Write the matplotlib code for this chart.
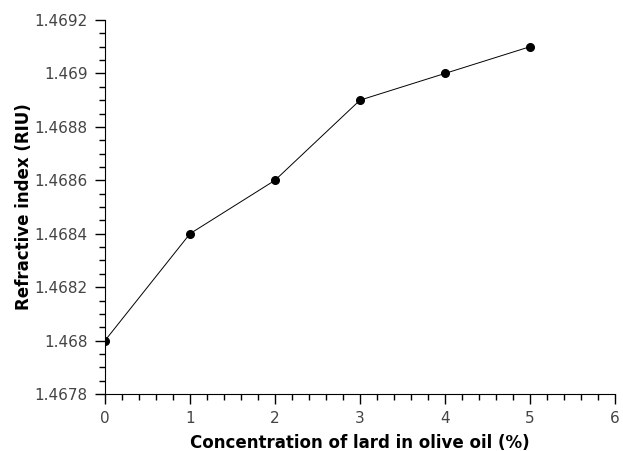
import matplotlib.pyplot as plt
from matplotlib.ticker import MultipleLocator, FuncFormatter

plt.rcParams['font.family'] = ['DejaVu Sans']

concentracao = [0, 1, 2, 3, 4, 5]
indice_refracao = [1.4680, 1.4684, 1.4686, 1.4689, 1.4690, 1.4691]

fig = plt.figure(figsize=(6.23, 4.51), dpi=100)
ax = fig.add_axes([105 / 623, 57 / 451, 510 / 623, 374 / 451])

ax.plot(concentracao, indice_refracao, color='black', linewidth=0.7,
        marker='o', markersize=5.5, markerfacecolor='black', markeredgecolor='black')

ax.set_xlim(0, 6)
ax.set_ylim(1.4678, 1.4692)
ax.xaxis.set_major_locator(MultipleLocator(1))
ax.xaxis.set_minor_locator(MultipleLocator(0.2))
ax.yaxis.set_major_locator(MultipleLocator(0.0002))
ax.yaxis.set_minor_locator(MultipleLocator(0.00005))
ax.yaxis.set_major_formatter(FuncFormatter(lambda v, p: f"{v:.4f}".rstrip('0').rstrip('.')))

ax.spines['top'].set_visible(False)
ax.spines['right'].set_visible(False)
ax.tick_params(which='major', direction='out', length=7.5, width=1, pad=5,
               labelsize=11, labelcolor='#444444')
ax.tick_params(which='minor', direction='out', length=4.5, width=1)

ax.set_xlabel("Concentration of lard in olive oil (%)", fontsize=12, fontweight='bold', va='center')
ax.set_ylabel("Refractive index (RIU)", fontsize=12, fontweight='bold', va='center')
ax.xaxis.set_label_coords(0.5, (394 - 443) / 374)
ax.yaxis.set_label_coords((24 - 105) / 510, 0.5)

fig.savefig("out.png", dpi=100)
